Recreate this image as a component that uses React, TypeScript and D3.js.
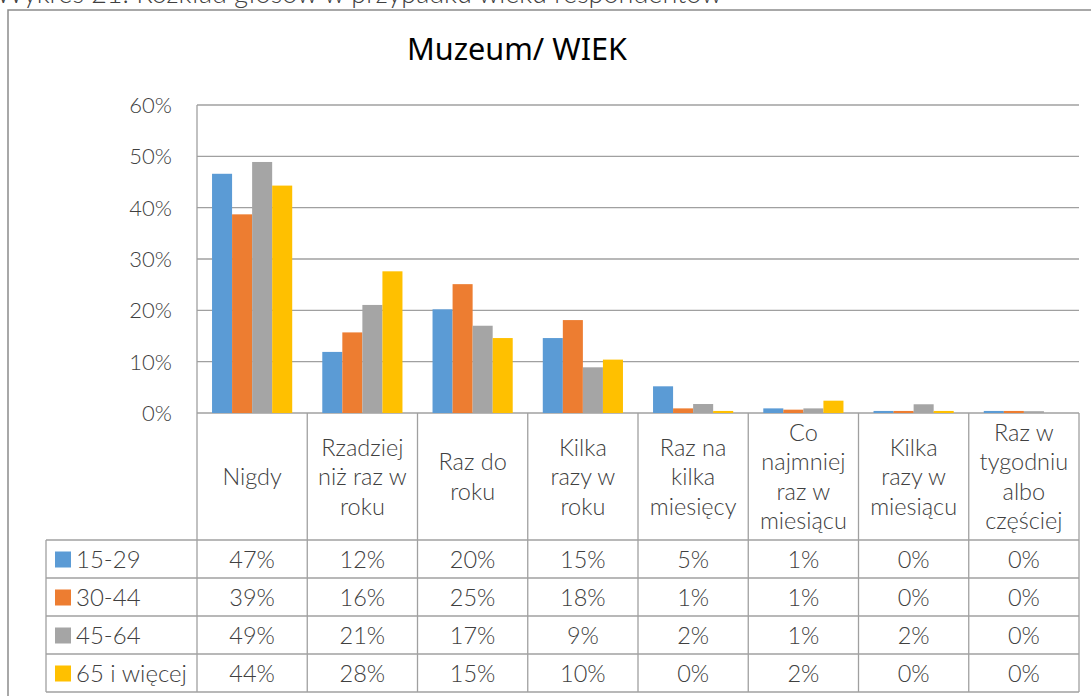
import React from "react";
import * as d3 from "d3";

const categories = [
  "Nigdy",
  "Rzadziej niż raz w roku",
  "Raz do roku",
  "Kilka razy w roku",
  "Raz na kilka miesięcy",
  "Co najmniej raz w miesiącu",
  "Kilka razy w miesiącu",
  "Raz w tygodniu albo częściej",
];
const categoryLines = [
  ["Nigdy"],
  ["Rzadziej", "niż raz w", "roku"],
  ["Raz do", "roku"],
  ["Kilka", "razy w", "roku"],
  ["Raz na", "kilka", "miesięcy"],
  ["Co", "najmniej", "raz w", "miesiącu"],
  ["Kilka", "razy w", "miesiącu"],
  ["Raz w", "tygodniu", "albo", "częściej"],
];
const seriesNames = ["15-29", "30-44", "45-64", "65 i więcej"];
const seriesColors = ["#5B9BD5", "#ED7D31", "#A5A5A5", "#FFC000"];
const s1529 = [46.6, 11.9, 20.2, 14.6, 5.2, 0.9, 0.4, 0.4];
const s3044 = [38.7, 15.7, 25.1, 18.1, 0.9, 0.65, 0.4, 0.4];
const s4564 = [48.9, 21.05, 17.0, 8.9, 1.75, 0.9, 1.7, 0.35];
const s65 = [44.3, 27.6, 14.6, 10.4, 0.4, 2.4, 0.4, 0.0];
const seriesValues = [s1529, s3044, s4564, s65];
const yTicks = [0, 10, 20, 30, 40, 50, 60];
const titleText = "Muzeum/ WIEK";
const captionText = "Wykres 21. Rozkład głosów w przypadku wieku respondentów";

const FONT = "Lato, 'Open Sans', sans-serif";
const TXT = "#404040";
const LINE = "#a0a0a0";

export default function App() {
  const W = 1091, H = 696;
  const plotL = 197, plotR = 1079, plotT = 105, plotB = 413;
  const headerB = 540, rowH = 38;
  const legendL = 46;

  const x = d3.scaleBand<string>().domain(categories).range([plotL, plotR]).padding(0);
  const x1 = d3
    .scaleBand<string>()
    .domain(seriesNames)
    .range([0, x.bandwidth()])
    .paddingInner(0)
    .paddingOuter(0.75);
  const y = d3.scaleLinear().domain([0, 60]).range([plotB, plotT]);
  const fmt = (v: number) => `${Math.round(v)}%`;
  const headerMid = (plotB + headerB) / 2;
  const lh = 29.5;
  const tableB = headerB + rowH * seriesNames.length;

  return (
    <svg width={W} height={H} style={{ position: "absolute", left: 0, top: 0, background: "#fff" }}
      fontFamily={FONT}>
      <rect x={0} y={0} width={W} height={H} fill="#fff" />
      <text x={-4} y={3} fontSize={27} fontWeight={300} fill={TXT}>{captionText}</text>
      <rect x={8} y={10} width={W + 10} height={H + 10} fill="none" stroke="#8c8c8c" strokeWidth={1.5} />
      <text x={407} y={60} fontSize={30} fontWeight={400} fill="#000" fontFamily="'Noto Sans', 'Open Sans', sans-serif"
        textLength={220} lengthAdjust="spacingAndGlyphs">{titleText}</text>

      {/* gridlines */}
      {yTicks.map((t) => (
        <line key={t} x1={plotL} x2={plotR} y1={y(t)} y2={y(t)} stroke={LINE} strokeWidth={1.3} />
      ))}
      {yTicks.map((t) => (
        <text key={"l" + t} x={172} y={y(t) + 8} textAnchor="end" fontSize={22} fontWeight={300} fill={TXT}>
          {t}%
        </text>
      ))}

      {/* bars */}
      {seriesNames.map((s, si) =>
        categories.map((c, ci) => {
          const v = seriesValues[si][ci];
          return (
            <rect key={s + c} x={(x(c) as number) + (x1(s) as number)} y={y(v)}
              width={x1.bandwidth()} height={plotB - y(v)} fill={seriesColors[si]} />
          );
        })
      )}

      {/* table lines */}
      <line x1={plotL} x2={plotL} y1={plotT} y2={tableB} stroke={LINE} strokeWidth={1.3} />
      {categories.map((c) => (
        <line key={"v" + c} x1={(x(c) as number) + x.bandwidth()} x2={(x(c) as number) + x.bandwidth()}
          y1={plotB} y2={tableB} stroke={LINE} strokeWidth={1.3} />
      ))}
      <line x1={legendL} x2={legendL} y1={headerB} y2={tableB} stroke={LINE} strokeWidth={1.3} />
      {seriesNames.map((s, i) => (
        <line key={"h" + s} x1={legendL} x2={plotR} y1={headerB + rowH * i} y2={headerB + rowH * i}
          stroke={LINE} strokeWidth={1.3} />
      ))}
      <line x1={legendL} x2={plotR} y1={tableB} y2={tableB} stroke={LINE} strokeWidth={1.3} />

      {/* header labels */}
      {categories.map((c, ci) => {
        const lines = categoryLines[ci];
        const cx = (x(c) as number) + x.bandwidth() / 2;
        const first = headerMid - ((lines.length - 1) / 2) * lh + 8.5;
        return (
          <text key={"c" + c} x={cx} textAnchor="middle" fontSize={23.5} fontWeight={300} fill={TXT}>
            {lines.map((ln, li) => (
              <tspan key={li} x={cx} y={first + li * lh}>{ln}</tspan>
            ))}
          </text>
        );
      })}

      {/* rows */}
      {seriesNames.map((s, si) => {
        const cy = headerB + rowH * si + rowH / 2;
        return (
          <g key={"r" + s}>
            <rect x={55} y={cy - 7.5} width={16} height={16} fill={seriesColors[si]} />
            <text x={76} y={cy + 9} fontSize={24} fontWeight={300} fill={TXT}>{s}</text>
            {categories.map((c, ci) => (
              <text key={c} x={(x(c) as number) + x.bandwidth() / 2} y={cy + 9} textAnchor="middle"
                fontSize={23.5} fontWeight={300} fill={TXT}>
                {fmt(seriesValues[si][ci])}
              </text>
            ))}
          </g>
        );
      })}
    </svg>
  );
}
